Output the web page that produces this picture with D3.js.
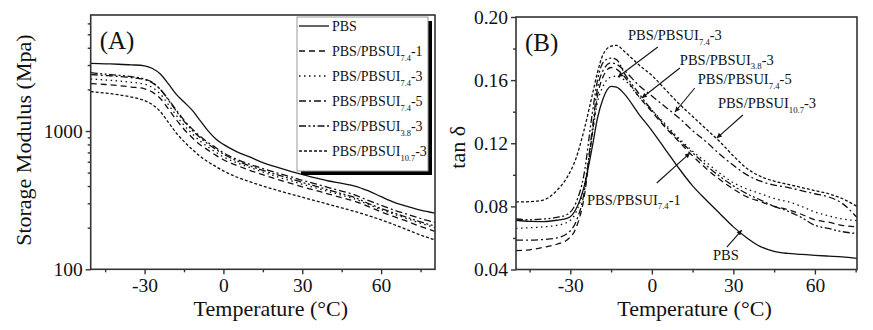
<!DOCTYPE html>
<html>
<head>
<meta charset="utf-8">
<script src="https://cdn.jsdelivr.net/npm/d3@7"></script>
<style>
  body { margin: 0; background: #fff; }
  svg { display: block; font-family: "Liberation Serif", "Times New Roman", serif; }
</style>
</head>
<body>
<div id="chart"></div>
<script>
// ---- data ----
// series labels: base text, subscript, suffix
const labelBase = ['PBS', 'PBS/PBSUI', 'PBS/PBSUI', 'PBS/PBSUI', 'PBS/PBSUI', 'PBS/PBSUI'];
const labelSub = ['', '7.4', '7.4', '7.4', '3.8', '10.7'];
const labelSuffix = ['', '-1', '-3', '-5', '-3', '-3'];

// (A) storage modulus, MPa
const tempA = [-50.5, -45, -40, -35, -30, -27, -24, -21, -18, -15, -12, -9, -6, -3, 0, 5, 10, 15, 20, 25, 30, 35, 40, 45, 50, 55, 60, 65, 70, 75, 80.5];
const modPBS = [3080, 3060, 3040, 3010, 2960, 2830, 2580, 2200, 1850, 1620, 1420, 1200, 1010, 880, 800, 710, 650, 590, 550, 515, 485, 458, 435, 418, 400, 370, 335, 305, 285, 268, 255];
const mod74_1 = [2200, 2170, 2130, 2080, 2020, 1910, 1720, 1450, 1210, 1030, 900, 800, 730, 670, 620, 565, 520, 483, 450, 422, 395, 372, 350, 330, 310, 285, 260, 240, 222, 204, 188];
const mod74_3 = [2380, 2340, 2300, 2250, 2180, 2060, 1850, 1560, 1300, 1100, 960, 850, 770, 705, 650, 590, 545, 505, 470, 440, 412, 388, 365, 343, 322, 295, 270, 250, 232, 215, 200];
const mod74_5 = [2560, 2520, 2480, 2430, 2350, 2230, 2000, 1700, 1420, 1200, 1040, 920, 830, 760, 695, 625, 575, 535, 500, 470, 440, 415, 390, 368, 345, 315, 290, 268, 250, 233, 218];
const mod38_3 = [2640, 2580, 2530, 2470, 2380, 2250, 2000, 1680, 1400, 1180, 1020, 900, 810, 740, 680, 610, 560, 520, 485, 455, 425, 400, 375, 352, 330, 300, 275, 255, 237, 220, 205];
const mod107_3 = [1930, 1880, 1830, 1760, 1660, 1550, 1380, 1160, 970, 840, 740, 660, 600, 555, 515, 465, 430, 400, 375, 352, 332, 313, 295, 278, 262, 245, 228, 210, 193, 177, 163];

// (B) tan delta
const tempB = [-50, -45, -40, -35, -31, -28, -25, -22, -20, -18, -15, -13, -10, -5, 0, 5, 10, 15, 20, 25, 30, 35, 40, 45, 50, 55, 60, 65, 70, 75.5];
const tanPBS = [0.0712, 0.0705, 0.0704, 0.0712, 0.0725, 0.078, 0.092, 0.117, 0.136, 0.148, 0.156, 0.1555, 0.151, 0.139, 0.128, 0.116, 0.104, 0.093, 0.084, 0.0755, 0.067, 0.060, 0.0545, 0.0515, 0.0502, 0.0496, 0.049, 0.0485, 0.048, 0.047];
const tan74_1 = [0.052, 0.0525, 0.054, 0.056, 0.059, 0.066, 0.085, 0.125, 0.150, 0.162, 0.168, 0.167, 0.162, 0.150, 0.140, 0.130, 0.121, 0.112, 0.104, 0.097, 0.091, 0.086, 0.083, 0.080, 0.078, 0.075, 0.0715, 0.070, 0.068, 0.067];
const tan74_3 = [0.066, 0.0665, 0.067, 0.068, 0.070, 0.076, 0.092, 0.125, 0.146, 0.156, 0.162, 0.1625, 0.160, 0.150, 0.141, 0.132, 0.123, 0.115, 0.108, 0.101, 0.095, 0.091, 0.088, 0.085, 0.083, 0.080, 0.0765, 0.074, 0.072, 0.071];
const tan74_5 = [0.0586, 0.0586, 0.059, 0.060, 0.063, 0.070, 0.088, 0.128, 0.155, 0.166, 0.171, 0.170, 0.166, 0.157, 0.150, 0.143, 0.136, 0.128, 0.121, 0.113, 0.106, 0.100, 0.096, 0.0935, 0.092, 0.090, 0.088, 0.086, 0.082, 0.073];
const tan38_3 = [0.072, 0.0715, 0.072, 0.073, 0.075, 0.082, 0.100, 0.138, 0.160, 0.171, 0.174, 0.173, 0.164, 0.152, 0.141, 0.131, 0.122, 0.114, 0.106, 0.099, 0.093, 0.088, 0.084, 0.080, 0.077, 0.073, 0.068, 0.066, 0.064, 0.0628];
const tan107_3 = [0.0828, 0.083, 0.084, 0.090, 0.099, 0.110, 0.128, 0.150, 0.165, 0.176, 0.1815, 0.182, 0.178, 0.170, 0.163, 0.154, 0.145, 0.137, 0.129, 0.121, 0.112, 0.104, 0.099, 0.096, 0.094, 0.092, 0.090, 0.088, 0.085, 0.080];

// axis ticks
const xMajor = [-30, 0, 30, 60];
const xMinor = [-45, -15, 15, 45, 75];
const yMajorA = [100, 1000];
const yMinorA = [200, 300, 400, 500, 600, 700, 800, 900, 2000, 3000, 4000, 5000, 6000];
const yMajorB = [0.04, 0.08, 0.12, 0.16, 0.20];
const yMinorB = [0.06, 0.10, 0.14, 0.18];

// (B) callouts: series index, label anchor, arrow tail, arrow tip (all in data units)
const calloutSeries = [2, 4, 3, 5, 1, 0];
const calloutLabel = [[-8.8, 0.1854], [10.3, 0.1696], [16.9, 0.1575], [24.3, 0.1423], [-23.9, 0.0809], [22.5, 0.0460]];
const calloutTail = [[2.2, 0.1810], [10.3, 0.1677], [15.8, 0.1550], [33.5, 0.1379], [1.8, 0.0948], [27.6, 0.0542]];
const calloutTip = [[-12.5, 0.1620], [-3.7, 0.1487], [8.5, 0.1398], [23.9, 0.1233], [14.0, 0.1138], [33.1, 0.0650]];

// ---- styles ----
const dashes = [null, '6,4', '1.5,3.5', '7,3,2,3', '7,2.5,2,2.5,2,2.5', '3,2'];
const modSeries = [modPBS, mod74_1, mod74_3, mod74_5, mod38_3, mod107_3];
const tanSeries = [tanPBS, tan74_1, tan74_3, tan74_5, tan38_3, tan107_3];

const width = 873, height = 330;
const svg = d3.select('#chart').append('svg')
  .attr('width', width)
  .attr('height', height);
svg.append('rect').attr('width', width).attr('height', height).attr('fill', '#fff');

svg.append('defs').append('marker')
  .attr('id', 'arrow')
  .attr('viewBox', '0 0 10 10')
  .attr('refX', 10).attr('refY', 5)
  .attr('markerWidth', 7).attr('markerHeight', 5)
  .attr('markerUnits', 'userSpaceOnUse')
  .attr('orient', 'auto')
  .append('path').attr('d', 'M0,0 L10,5 L0,10 Z').attr('fill', '#111');

function label(sel, i, size) {
  sel.append('tspan').text(labelBase[i]);
  if (labelSub[i]) {
    sel.append('tspan').attr('font-size', size * 0.6).attr('dy', 4.5).text(labelSub[i]);
    sel.append('tspan').attr('dy', -4.5).text(labelSuffix[i]);
  }
}

// plain hyphen for negatives, like the figure
const fmtInt = d => String(d);

function panel(box, x, y, opts) {
  const g = svg.append('g');
  const clipId = 'clip' + opts.key;
  svg.select('defs').append('clipPath').attr('id', clipId)
    .append('rect')
    .attr('x', box.left).attr('y', box.top)
    .attr('width', box.right - box.left).attr('height', box.bottom - box.top);

  // curves
  const line = d3.line()
    .x(d => x(d[0]))
    .y(d => y(d[1]))
    .curve(d3.curveMonotoneX);
  g.append('g').attr('clip-path', `url(#${clipId})`)
    .selectAll('path')
    .data(opts.series)
    .join('path')
    .attr('d', vals => line(opts.temps.map((t, k) => [t, vals[k]])))
    .attr('fill', 'none')
    .attr('stroke', '#111')
    .attr('stroke-width', 1.3)
    .attr('stroke-dasharray', (d, i) => dashes[i]);

  // frame
  g.append('rect')
    .attr('x', box.left).attr('y', box.top)
    .attr('width', box.right - box.left).attr('height', box.bottom - box.top)
    .attr('fill', 'none').attr('stroke', '#333').attr('stroke-width', 1.6);

  // axes
  const axisStyle = a => {
    a.attr('font-family', null);
    a.select('.domain').remove();
    a.selectAll('line').attr('stroke', '#333').attr('stroke-width', 1.4);
    a.selectAll('text').attr('font-size', 19.5).attr('fill', '#111');
  };
  g.append('g').attr('transform', `translate(0,${box.bottom})`)
    .call(d3.axisBottom(x).tickValues(xMajor).tickSize(5).tickPadding(4).tickFormat(fmtInt))
    .call(axisStyle);
  g.append('g').attr('transform', `translate(0,${box.bottom})`)
    .call(d3.axisBottom(x).tickValues(xMinor).tickSize(3).tickFormat(''))
    .call(axisStyle);
  g.append('g').attr('transform', `translate(${box.left},0)`)
    .call(d3.axisLeft(y).tickValues(opts.yMajor).tickSize(5).tickPadding(3).tickFormat(opts.yFormat))
    .call(axisStyle);
  g.append('g').attr('transform', `translate(${box.left},0)`)
    .call(d3.axisLeft(y).tickValues(opts.yMinor).tickSize(3).tickFormat(''))
    .call(axisStyle);

  // titles
  const midX = (box.left + box.right) / 2;
  g.append('text')
    .attr('x', midX + 8).attr('y', 316)
    .attr('text-anchor', 'middle').attr('font-size', 22).attr('fill', '#111')
    .text('Temperature (°C)');
  g.append('text')
    .attr('transform', `translate(${opts.yTitleX},${(box.top + box.bottom) / 2 + opts.yTitleDy}) rotate(-90)`)
    .attr('text-anchor', 'middle').attr('font-size', 22).attr('fill', '#111')
    .text(opts.yTitle);
  g.append('text')
    .attr('x', box.left + 9).attr('y', box.top + 34)
    .attr('font-size', 25).attr('fill', '#111')
    .text(opts.tag);
  return g;
}

// ---- panel A ----
const boxA = { left: 90.7, right: 435, top: 15, bottom: 269.3 };
const xA = d3.scaleLinear().domain([-50.5, 80.5]).range([boxA.left, boxA.right]);
const yA = d3.scaleLog().domain([100, 6900]).range([boxA.bottom, boxA.top]);
const gA = panel(boxA, xA, yA, {
  key: 'A', tag: '(A)', temps: tempA, series: modSeries,
  yMajor: yMajorA, yMinor: yMinorA, yFormat: fmtInt,
  yTitle: 'Storage Modulus (Mpa)', yTitleX: 31, yTitleDy: -2
});

// legend
const leg = { x: 297, y: 17, w: 131, h: 154, row: 25 };
const legG = gA.append('g');
legG.append('rect').attr('x', leg.x + 4).attr('y', leg.y + 4).attr('width', leg.w).attr('height', leg.h).attr('fill', '#000');
legG.append('rect').attr('x', leg.x).attr('y', leg.y).attr('width', leg.w).attr('height', leg.h)
  .attr('fill', '#fff').attr('stroke', '#999').attr('stroke-width', 1);
labelBase.forEach((b, i) => {
  const cy = leg.y + 9 + i * leg.row;
  legG.append('line')
    .attr('x1', leg.x + 2).attr('x2', leg.x + 32).attr('y1', cy).attr('y2', cy)
    .attr('stroke', '#111').attr('stroke-width', 1.3)
    .attr('stroke-dasharray', dashes[i]);
  const t = legG.append('text')
    .attr('x', leg.x + 35).attr('y', cy + 5)
    .attr('font-size', 14).attr('fill', '#111');
  label(t, i, 14);
});

// ---- panel B ----
const boxB = { left: 516, right: 857, top: 17, bottom: 269.5 };
const xB = d3.scaleLinear().domain([-50, 75.5]).range([boxB.left, boxB.right]);
const yB = d3.scaleLinear().domain([0.04, 0.20]).range([boxB.bottom, boxB.top]);
const gB = panel(boxB, xB, yB, {
  key: 'B', tag: '(B)', temps: tempB, series: tanSeries,
  yMajor: yMajorB, yMinor: yMinorB, yFormat: d3.format('.2f'),
  yTitle: 'tan δ', yTitleX: 465, yTitleDy: 4
});

calloutSeries.forEach((s, i) => {
  gB.append('line')
    .attr('x1', xB(calloutTail[i][0])).attr('y1', yB(calloutTail[i][1]))
    .attr('x2', xB(calloutTip[i][0])).attr('y2', yB(calloutTip[i][1]))
    .attr('stroke', '#111').attr('stroke-width', 1.1)
    .attr('marker-end', 'url(#arrow)');
  const t = gB.append('text')
    .attr('x', xB(calloutLabel[i][0])).attr('y', yB(calloutLabel[i][1]))
    .attr('font-size', 14.5).attr('fill', '#111');
  label(t, s, 14.5);
});
</script>
</body>
</html>
